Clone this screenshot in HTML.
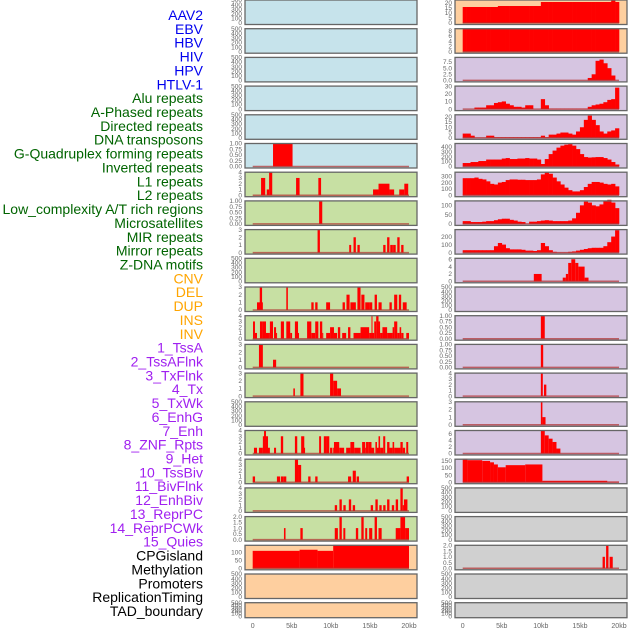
<!DOCTYPE html>
<html><head><meta charset="utf-8"><style>
html,body{margin:0;padding:0;background:#fff;}
svg{display:block;font-family:"Liberation Sans",sans-serif;}
</style></head><body>
<svg id="fig" width="630" height="630" viewBox="0 0 630 630" xmlns="http://www.w3.org/2000/svg"></svg>
<script>
// ---------- data ----------
const rowLabels = ["AAV2","EBV","HBV","HIV","HPV","HTLV-1","Alu repeats","A-Phased repeats","Directed repeats","DNA transposons","G-Quadruplex forming repeats","Inverted repeats","L1 repeats","L2 repeats","Low_complexity A/T rich regions","Microsatellites","MIR repeats","Mirror repeats","Z-DNA motifs","CNV","DEL","DUP","INS","INV","1_TssA","2_TssAFlnk","3_TxFlnk","4_Tx","5_TxWk","6_EnhG","7_Enh","8_ZNF_Rpts","9_Het","10_TssBiv","11_BivFlnk","12_EnhBiv","13_ReprPC","14_ReprPCWk","15_Quies","CPGisland","Methylation","Promoters","ReplicationTiming","TAD_boundary"];
const labelGroups = [6,13,5,15,5];
const groupColors = ["#0000ee","#006400","#ffa500","#a020f0","#000000"];
const xTickValues = [0,5000,10000,15000,20000];
const xTickLabels = ["0","5kb","10kb","15kb","20kb"];

// left column bars: [startKb, endKb, value]
const L5 = [[2.6,5.1,1]];
const L6 = [[1.07,1.6,3],[1.8,2.1,1],[2.1,2.5,4],[5.55,6.0,3],[8.4,8.75,3],[15.4,16.1,1],[16.1,17.5,2],[17.5,18.1,1],[18.75,19.4,1],[19.4,19.9,2]];
const L7 = [[8.5,8.9,1]];
const L8 = [[8.3,8.6,3],[12.35,12.6,1],[12.9,13.2,2],[13.4,13.7,1],[16.7,17.0,1],[17.2,17.5,2],[17.6,17.85,1],[17.85,18.0,1],[18.0,18.3,1],[18.5,18.8,2],[19.0,19.3,1]];
const L10 = [[0.55,1.3,1],[0.9,1.2,3],[4.3,4.5,3],[7.5,7.8,1],[8.0,8.3,1],[9.4,9.9,1],[11.5,11.8,1],[12.0,12.4,2],[12.5,13.2,1],[13.4,13.8,3],[13.9,14.3,2],[14.4,15.0,1],[15.0,15.3,1],[15.6,15.9,2],[16.1,16.5,1],[17.5,17.8,1],[18.1,18.5,2],[18.7,19.0,2],[19.2,19.7,1]];
const L11 = [[0.04,0.29,3],[0.29,0.55,1],[0.93,1.2,3],[1.2,1.7,3],[1.7,1.96,1],[1.96,2.2,1],[2.2,2.6,3],[2.73,2.99,2],[2.99,3.1,1],[3.6,4.0,3],[4.3,4.8,3],[4.8,5.04,1],[5.4,5.8,3],[5.8,5.9,1],[6.96,7.5,3],[7.5,8.0,1],[8.0,8.4,3],[8.6,8.9,3],[8.9,9.0,1],[9.4,9.9,1],[9.9,10.4,2],[10.4,10.8,1],[10.9,11.2,2],[11.45,11.96,1],[12.2,12.5,2],[12.9,13.8,1],[13.8,14.9,2],[14.9,15.2,1],[15.2,15.3,4],[15.3,15.55,1],[15.55,15.8,3],[15.8,16.1,4],[16.1,16.3,3],[16.3,16.6,1],[16.6,17.2,2],[17.2,17.9,1],[17.9,18.1,2],[18.1,18.5,3],[18.5,18.8,1],[18.8,19.0,2],[19.0,19.3,1],[19.65,20.0,1]];
const L12 = [[0.8,1.3,3],[2.6,3.0,1]];
const L13 = [[5.2,5.4,1],[6.1,6.5,3],[9.9,10.3,3],[10.3,10.8,2],[10.8,11.3,1]];
const L15 = [[0.16,0.55,1],[0.8,1.3,1],[1.3,1.6,3],[1.45,1.7,4],[1.7,1.96,3],[1.83,2.2,1],[2.73,2.99,1],[3.6,3.9,3],[5.4,5.7,3],[6.2,6.6,3],[6.45,6.7,1],[8.5,8.75,3],[9.1,9.5,3],[9.5,9.8,3],[9.9,10.2,1],[10.3,10.8,1],[10.4,11.07,2],[11.07,11.3,1],[11.3,11.7,1],[11.96,12.5,1],[12.5,12.99,2],[12.99,13.8,1],[14.0,14.4,2],[14.4,14.65,1],[14.5,14.8,2],[14.8,15.2,2],[15.2,15.55,1],[15.7,15.9,2],[15.9,16.2,1],[16.1,16.3,3],[16.3,16.7,1],[16.7,16.96,3],[17.2,17.5,2],[17.5,17.9,1],[17.9,18.1,2],[18.1,18.9,1],[18.9,19.2,2],[19.2,19.5,1],[19.65,19.9,2]];
const L16 = [[0.0,0.3,1],[3.1,3.5,1],[3.6,3.9,1],[3.9,4.3,1],[5.4,5.8,4],[5.8,6.2,3],[7.1,7.4,1],[8.0,8.3,1],[12.2,12.6,1],[12.8,13.2,2],[13.3,13.6,1],[19.7,20.0,1]];
const L17 = [[10.5,10.8,1],[11.1,11.4,2],[11.6,11.9,1],[12.3,12.6,2],[12.8,13.1,1],[15.1,15.4,1],[15.7,16.0,2],[16.2,16.5,1],[16.7,17.0,1],[17.2,17.5,2],[17.8,18.1,1],[18.3,18.6,2],[18.9,19.2,4],[19.2,19.35,1],[19.35,19.8,2]];
const L18 = [[4.0,4.2,1],[6.1,6.4,1],[10.5,10.9,1],[11.1,11.4,2],[11.6,11.85,1],[13.2,13.5,1],[13.9,14.2,2],[14.4,14.65,1],[14.9,15.3,1],[15.6,15.9,2],[16.1,16.5,1],[18.3,18.9,1],[18.9,19.5,2],[19.5,20.0,1]];
const L19 = [[0,6,110],[6,8.3,117],[8.3,10.3,110],[10.3,20,148]];

// right column: per-0.5kb bin values (40 bins over 0-20kb)
const R0 = [16,16,16,16,16,16,16,16,16,17,17,17,17,17,17,17,17,17,17,17,21,21,21,21,21,21,21,21,21,21,21,21,21,21,21,21,21,21,25,21];
const R1 = [8.7,8.7,8.7,8.7,8.7,8.7,8.7,8.7,8.7,8.7,8.7,8.7,8.7,8.7,8.7,8.7,8.7,8.7,8.7,8.7,8.7,8.7,8.7,8.7,8.7,8.7,8.7,8.7,8.7,8.7,8.7,8.7,8.7,8.7,8.7,8.7,8.7,8.7,8.7,8.7];
const R2 = [0,0,0,0,0,0,0,0,0,0,0,0,0,0,0,0,0,0,0,0,0,0,0,0,0,0,0,0,0,0,0,0,1,2.5,8,8.5,7,5,2,0];
const R3 = [0,0,0,2,2,2,5,5,8,9,10,7,5,3,3,2,5,5,0,0,13,5,0.5,0.5,0.5,0.5,0.5,0.5,0.5,0.5,0.5,0.5,3,5,6,7,9,12,13,28];
const R4 = [4,4,2,0,0,0,2,2,0.5,0.5,0.5,0.5,0.5,0.5,0.5,0.5,0.5,0.5,0.5,0.5,2,0.5,3,3,4,5,5,4,3,6,10,17,21,17,12,6,4,6,7,9];
const R5 = [70,70,90,90,110,110,140,140,140,140,160,170,150,150,160,160,170,160,160,140,50,150,250,320,380,420,440,450,420,350,250,190,180,185,190,190,170,140,90,40];
const R6 = [270,270,270,280,260,250,220,180,170,200,210,240,250,250,245,245,240,240,240,250,330,360,340,280,220,170,120,80,60,60,80,130,180,210,210,200,180,170,180,140];
const R7 = [15,15,10,10,10,12,15,15,20,25,28,28,22,18,12,10,0,12,12,15,18,20,18,15,15,15,15,18,30,60,100,120,115,100,95,105,125,130,115,85];
const R8 = [30,30,30,30,30,30,30,30,80,120,100,55,40,40,40,35,25,25,20,30,120,80,30,10,3,3,3,10,15,25,35,45,55,60,60,60,80,130,200,280];
// right column bars
const R9 = [[9.1,10.1,2],[12.8,13.2,1],[13.2,13.5,2],[13.5,13.9,5],[13.9,14.4,6],[14.4,14.8,5],[14.8,15.6,4],[15.6,16.1,1]];
const R11 = [[10.0,10.5,1]];
const R12 = [[10.0,10.3,1]];
const R13 = [[10.0,10.25,4],[10.4,10.7,2]];
const R14 = [[10.0,10.2,3],[10.2,10.6,1]];
const R15 = [[10.0,10.5,7],[10.5,11.0,5.5],[11.0,11.5,4.5],[11.5,12.0,3.5],[12.0,12.5,1.5]];
const R16 = [[0,0.6,165],[0.6,2.5,155],[2.5,3.5,150],[3.5,4.0,140],[4.0,4.5,125],[4.5,5.5,105],[5.5,8.0,120],[8.0,10.2,125],[10.2,18.5,10],[18.5,20,5]];
const R19 = [[17.9,18.2,1],[18.35,18.65,2],[18.8,19.2,1]];

const emptyTicks = ["0","100","200","300","400","500"];
const t01 = ["0.00","0.25","0.50","0.75","1.00"];
const BLUE="#c6e3eb", GREEN="#c7e0a3", ORANGE="#fecf9f", PURPLE="#d6c5e1", GRAY="#d0d0d0";

// panel config: [bg, ymax, tickValues, tickLabels, series, kind]
const leftPanels = [
 [BLUE,500,[0,100,200,300,400,500],emptyTicks,null],
 [BLUE,500,[0,100,200,300,400,500],emptyTicks,null],
 [BLUE,500,[0,100,200,300,400,500],emptyTicks,null],
 [BLUE,500,[0,100,200,300,400,500],emptyTicks,null],
 [BLUE,500,[0,100,200,300,400,500],emptyTicks,null],
 [BLUE,1,[0,0.25,0.5,0.75,1],t01,L5,"bars"],
 [GREEN,4,[0,1,2,3,4],["0","1","2","3","4"],L6,"bars"],
 [GREEN,1,[0,0.25,0.5,0.75,1],t01,L7,"bars"],
 [GREEN,3,[0,1,2,3],["0","1","2","3"],L8,"bars"],
 [GREEN,500,[0,100,200,300,400,500],emptyTicks,null],
 [GREEN,3,[0,1,2,3],["0","1","2","3"],L10,"bars"],
 [GREEN,4,[0,1,2,3,4],["0","1","2","3","4"],L11,"bars"],
 [GREEN,3,[0,1,2,3],["0","1","2","3"],L12,"bars"],
 [GREEN,3,[0,1,2,3],["0","1","2","3"],L13,"bars"],
 [GREEN,500,[0,100,200,300,400,500],emptyTicks,null],
 [GREEN,4,[0,1,2,3,4],["0","1","2","3","4"],L15,"bars"],
 [GREEN,4,[0,1,2,3,4],["0","1","2","3","4"],L16,"bars"],
 [GREEN,4,[0,1,2,3,4],["0","1","2","3","4"],L17,"bars"],
 [GREEN,2,[0,0.5,1,1.5,2],["0.0","0.5","1.0","1.5","2.0"],L18,"bars"],
 [ORANGE,145,[0,50,100],["0","50","100"],L19,"bars"],
 [ORANGE,500,[0,100,200,300,400,500],emptyTicks,null],
 [ORANGE,500,[0,100,200,300,400,500],emptyTicks,null]
];
const rightPanels = [
 [ORANGE,23,[0,5,10,15,20],["0","5","10","15","20"],R0,"bins"],
 [ORANGE,8.7,[0,2,4,6,8],["0","2","4","6","8"],R1,"bins"],
 [PURPLE,9.4,[0,2.5,5,7.5],["0.0","2.5","5.0","7.5"],R2,"bins"],
 [PURPLE,30,[0,10,20,30],["0","10","20","30"],R3,"bins"],
 [PURPLE,21.8,[0,5,10,15,20],["0","5","10","15","20"],R4,"bins"],
 [PURPLE,463,[0,100,200,300,400],["0","100","200","300","400"],R5,"bins"],
 [PURPLE,365,[0,100,200,300],["0","100","200","300"],R6,"bins"],
 [PURPLE,124,[0,50,100],["0","50","100"],R7,"bins"],
 [PURPLE,287,[0,100,200],["0","100","200"],R8,"bins"],
 [PURPLE,6.26,[0,2,4,6],["0","2","4","6"],R9,"bars"],
 [PURPLE,500,[0,100,200,300,400,500],emptyTicks,null],
 [PURPLE,1,[0,0.25,0.5,0.75,1],t01,R11,"bars"],
 [PURPLE,1,[0,0.25,0.5,0.75,1],t01,R12,"bars"],
 [PURPLE,4,[0,1,2,3,4],["0","1","2","3","4"],R13,"bars"],
 [PURPLE,3,[0,1,2,3],["0","1","2","3"],R14,"bars"],
 [PURPLE,6.98,[0,2,4,6],["0","2","4","6"],R15,"bars"],
 [PURPLE,162,[0,50,100,150],["0","50","100","150"],R16,"bars"],
 [GRAY,500,[0,100,200,300,400,500],emptyTicks,null],
 [GRAY,500,[0,100,200,300,400,500],emptyTicks,null],
 [GRAY,2,[0,0.5,1,1.5,2],["0.0","0.5","1.0","1.5","2.0"],R19,"bars"],
 [GRAY,500,[0,100,200,300,400,500],emptyTicks,null],
 [GRAY,500,[0,100,200,300,400,500],emptyTicks,null]
];

// ---------- drawing ----------
const NS="http://www.w3.org/2000/svg";
const svg=document.getElementById("fig");
function mk(tag,attrs,parent){const e=document.createElementNS(NS,tag);for(const k in attrs)e.setAttribute(k,attrs[k]);(parent||svg).appendChild(e);return e;}

// labels
let gi=0,gc=0;
rowLabels.forEach((t,i)=>{
  while(gc>=labelGroups[gi]){gi++;gc=0;}
  gc++;
  const el=mk("text",{x:203,y:15+i*13.86+5,"text-anchor":"end","font-size":"14",fill:groupColors[gi]});
  el.textContent=t;
  
  
});

const cols=[{x0:245,x1:417,z:252.7,t:409,panels:leftPanels,name:"left"},{x0:455,x1:627,z:462.7,t:619,panels:rightPanels,name:"right"}];
const PITCH=28.7;
function xScale(col,kb){return col.z+(col.t-col.z)*kb/20;}

cols.forEach(col=>{
  col.panels.forEach((p,i)=>{
    const top=i*PITCH, h=(i===21?15:24.5), bot=top+h;
    const g=mk("g",{});
    
    
    const bg=mk("rect",{x:col.x0,y:top,width:col.x1-col.x0,height:h,fill:p[0]},g);
    
    
    const y0=bot-1.5, ymax=p[1];
    const yScale=v=>y0-(v/ymax)*(y0-top);
    const series=p[4];
    if(series){
      if(p[5]==="bins"){
        series.forEach((v,k)=>{
          if(v<=0)return;
          const xa=xScale(col,k*0.5), xb=xScale(col,(k+1)*0.5), yy=yScale(v);
          const r=mk("rect",{x:xa,y:yy,width:xb-xa+0.3,height:y0-yy,fill:"#ff0000"},g);
          
          
        });
      } else {
        series.forEach(s=>{
          const xa=xScale(col,s[0]), xb=xScale(col,s[1]), yy=yScale(s[2]);
          const r=mk("rect",{x:xa,y:yy,width:Math.max(xb-xa,1),height:y0-yy,fill:"#ff0000"},g);
          
          
        });
      }
      const bl=mk("line",{x1:xScale(col,0),x2:xScale(col,20),y1:y0,y2:y0,stroke:"#b03030","stroke-width":1.5,"stroke-opacity":0.7},g);
      
      
    }
    const br=mk("rect",{x:col.x0,y:top,width:col.x1-col.x0,height:h,fill:"none",stroke:"#666","stroke-width":1.3},g);
    
    
    p[2].forEach((tv,k)=>{
      const tt=mk("text",{x:col.x0-3,y:yScale(tv)+2.2,"text-anchor":"end","font-size":"6.5",fill:"#666"},g);
      tt.textContent=p[3][k];
      
      
    });
  });
  xTickValues.forEach((v,k)=>{
    const t=mk("text",{x:xScale(col,v/1000),y:628,"text-anchor":"middle","font-size":"7",fill:"#666"});
    t.textContent=xTickLabels[k];
    
    
  });
});
</script>
</body></html>
